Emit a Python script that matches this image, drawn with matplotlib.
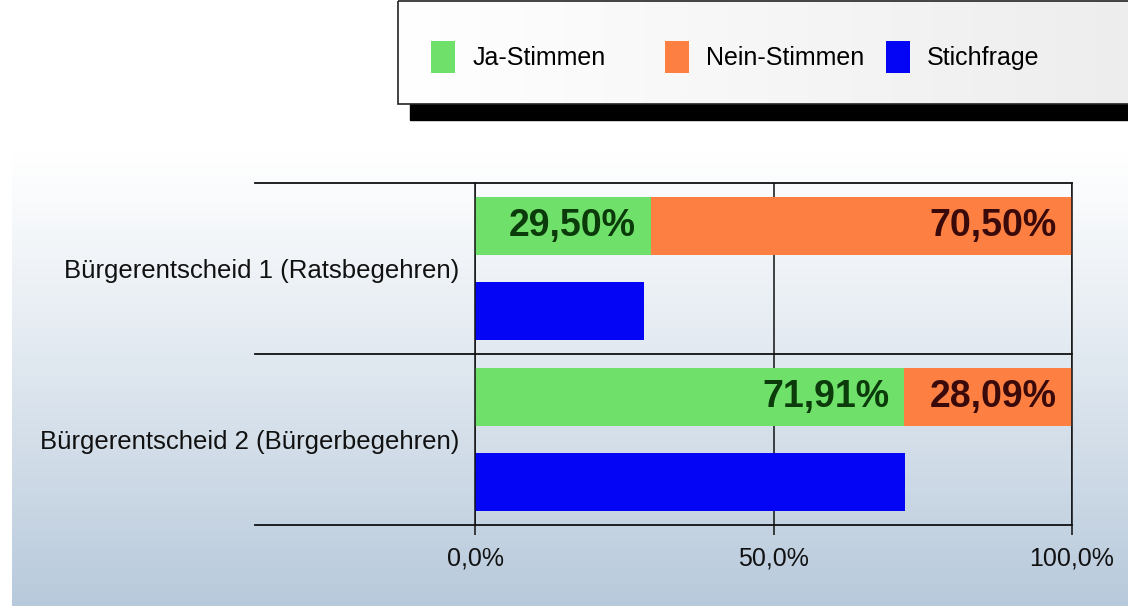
import numpy as np
import matplotlib
matplotlib.use("Agg")
import matplotlib.pyplot as plt
from matplotlib.patches import Rectangle

plt.rcParams['font.family'] = ['Liberation Sans', 'DejaVu Sans']

# =========================================================
# DATA
# =========================================================

categories = [
    "Bürgerentscheid 1 (Ratsbegehren)",
    "Bürgerentscheid 2 (Bürgerbegehren)",
]
ja_stimmen = [29.50, 71.91]
nein_stimmen = [70.50, 28.09]
stichfrage = [28.3, 72.0]

series_names = ["Ja-Stimmen", "Nein-Stimmen", "Stichfrage"]
tick_values = [0, 50, 100]

GREEN = "#6fe06a"
ORANGE = "#fd8042"
BLUE = "#0505f5"

# =========================================================
# FIGURE + BACKGROUND
# =========================================================

W, H = 1128, 606
fig = plt.figure(figsize=(W / 100, H / 100), dpi=100)
fig.patch.set_facecolor("white")

bg = fig.add_axes([0, 0, 1, 1], zorder=-5)
bg.set_xlim(0, W)
bg.set_ylim(H, 0)
bg.axis("off")

# vertical gradient panel behind the chart
top = np.array([1.0, 1.0, 1.0])
bottom = np.array([0.72, 0.79, 0.86])
t = np.linspace(0, 1, 256)[:, None]
grad = top + (bottom - top) * t ** 1.1
grad = np.repeat(grad[:, None, :], 2, axis=1)
bg.imshow(grad, extent=[12, W, H, 150], aspect="auto", zorder=0)

# legend box with black shadow
bg.add_patch(Rectangle((410, 20), W, 100, color="black", zorder=1))
lg = np.linspace(1.0, 0.93, 256)
lg = np.stack([lg, lg, lg], axis=-1)[None, :, :]
bg.imshow(np.repeat(lg, 2, axis=0), extent=[398, W + 5, 104, 1], aspect="auto", zorder=2)
bg.add_patch(Rectangle((398, 1), W, 103, fill=False, ec="#222222", lw=1.2, zorder=3))

# =========================================================
# BAR CHART
# =========================================================

ax = fig.add_axes([475 / W, 1 - 525 / H, 597 / W, 342 / H])
ax.patch.set_alpha(0)

y = np.arange(len(categories))
h = 0.34

b_ja = ax.barh(y + 0.25, ja_stimmen, height=h, color=GREEN, label=series_names[0])
b_nein = ax.barh(y + 0.25, nein_stimmen, left=ja_stimmen, height=h, color=ORANGE,
                 label=series_names[1])
b_st = ax.barh(y + 0.75, stichfrage, height=h, color=BLUE, label=series_names[2])

for i in range(len(categories)):
    ax.annotate(f"{ja_stimmen[i]:.2f}%".replace(".", ","),
                xy=(ja_stimmen[i], y[i] + 0.25), xytext=(-11, 0),
                textcoords="offset points", ha="right", va="center",
                fontsize=27, fontweight="bold", color="#0b3a0b")
    ax.annotate(f"{nein_stimmen[i]:.2f}%".replace(".", ","),
                xy=(ja_stimmen[i] + nein_stimmen[i], y[i] + 0.25), xytext=(-11, 0),
                textcoords="offset points", ha="right", va="center",
                fontsize=27, fontweight="bold", color="#3a0a0a")

ax.set_xlim(0, 100)
ax.set_ylim(len(categories), 0)

ax.set_xticks(tick_values)
ax.set_xticklabels([f"{v:.1f}%".replace(".", ",") for v in tick_values])
ax.set_yticks(y + 0.5)
ax.set_yticklabels(categories)

ax.tick_params(axis="x", length=7.5, width=1.1, pad=8, labelsize=18, colors="#111111")
ax.tick_params(axis="y", length=0, pad=11, labelsize=18.5, colors="#111111")

ax.set_axisbelow(True)
ax.xaxis.grid(True, color="#111111", lw=1.1)

for side in ["top", "bottom"]:
    ax.spines[side].set_visible(False)
for side in ["left", "right"]:
    ax.spines[side].set_linewidth(1.1)
    ax.spines[side].set_color("#111111")

# separator lines reaching into the label area
for k in range(len(categories) + 1):
    ax.axhline(k, xmin=(255 - 475) / 597, xmax=1, color="#111111", lw=1.3, clip_on=False)

# =========================================================
# LEGEND (fixed slots, like the original)
# =========================================================

legend_x = [431, 665, 886]
for handle, lx in zip([b_ja, b_nein, b_st], legend_x):
    fig.legend(handles=[handle], loc="center left",
               bbox_to_anchor=(lx / W, 1 - 57 / H), frameon=False,
               fontsize=18, handlelength=0.95, handleheight=1.6,
               handletextpad=0.7, borderpad=0, borderaxespad=0)

fig.savefig("out.png", dpi=100)
plt.close(fig)
